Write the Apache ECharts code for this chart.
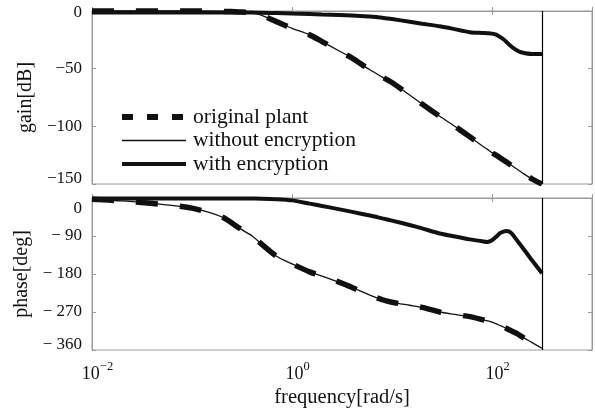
<!DOCTYPE html>
<html>
<head>
<meta charset="utf-8">
<script src="https://cdn.jsdelivr.net/npm/echarts@6/dist/echarts.min.js"></script>
<style>
  html, body { margin: 0; padding: 0; background: #fff; }
  #chart { width: 595px; height: 412px; }
</style>
</head>
<body>
<div id="chart"></div>
<script>
// ---- data ----
const seriesNames = ['original plant', 'without encryption', 'with encryption'];
const freq = [0.01, 0.02, 0.05, 0.1, 0.2, 0.3, 0.4, 0.5, 0.7, 1,
              1.5, 2, 3, 4, 6, 8, 10, 15, 20, 30,
              40, 60, 80, 90, 100, 110, 120, 130, 140, 150,
              160, 180, 200, 250, 316];
const gainOriginal = [0, 0, 0, 0, -0.3, -0.8, -1.5, -3.8, -9.2, -15,
                      -20.7, -26.5, -34.9, -40.8, -51, -57.3, -62, -72.9, -80.7, -91.3,
                      -98.4, -109.1, -117, -120, -122.8, -125, -127.2, -129.2, -131, -132.8,
                      -134.4, -137.5, -140.2, -145.5, -150];
const gainEncrypted = [-1.2, -1.2, -1.2, -1.2, -1.2, -1.3, -1.4, -1.5, -1.8, -2.2,
                       -2.6, -3, -3.5, -4, -4.8, -5.8, -7, -9.3, -11, -13.3,
                       -15.3, -18.4, -19, -19.3, -19.6, -20.5, -22.5, -24.5, -27, -29.5,
                       -31.5, -34.5, -36, -37.3, -37.3];
const phaseOriginal = [-3, -7, -15, -24, -45, -72, -90, -110, -138, -156,
                       -175, -185, -200, -212, -230, -241, -247, -254, -259, -270,
                       -275, -281, -288, -291, -294, -298, -302, -305.5, -309, -312.5,
                       -316, -322, -329, -342, -356];
const phaseEncrypted = [-1, -1, -1, -1, -1, -1.2, -1.4, -1.6, -2.8, -5.6,
                        -13.3, -18.8, -26.9, -32.9, -41.5, -48.3, -53.6, -64, -72, -84,
                        -90, -98, -102.5, -104, -100, -92, -83, -79.5, -78, -80,
                        -86, -102, -116, -147, -178];
const nyquistFreq = 316;
const gainTicks = [0, -50, -100, -150];
const phaseTicks = [0, -90, -180, -270, -360];
const freqTickExponents = [-2, 0, 2];

// ---- helpers ----
const FONT = 'Liberation Serif';
const GREY = '#9a9a9a';
const pairs = (xs, ys) => xs.map((x, i) => [x, ys[i]]);
const MINUS = '\u2212';

function yLabelFormatter(ticks, kind) {
  return function (v) {
    if (ticks.indexOf(v) < 0) return '';
    let txt = v < 0 ? MINUS + (kind === 'phase' ? ' ' : '') + Math.abs(v) : String(v);
    const isTop = v === ticks[0];
    const isBottom = v === ticks[ticks.length - 1];
    if (isTop) return '{' + (kind === 'phase' ? 'tp' : 'tg') + '|' + txt + '}';
    if (isBottom) return '{bt|' + txt + '}';
    return '{n|' + txt + '}';
  };
}
const yRich = {
  n: { fontFamily: FONT, fontSize: 17, color: '#111' },
  tg: { fontFamily: FONT, fontSize: 17, color: '#111', padding: [4, 0, 0, 0] },
  tp: { fontFamily: FONT, fontSize: 17, color: '#111', padding: [22, 0, 0, 0] },
  bt: { fontFamily: FONT, fontSize: 17, color: '#111', padding: [0, 0, 10, 0] }
};

function xLabelFormatter(v) {
  const e = Math.round(Math.log10(v));
  if (freqTickExponents.indexOf(e) < 0 || Math.abs(Math.log10(v) - e) > 1e-6) return '';
  const sup = e < 0 ? MINUS + Math.abs(e) : String(e);
  return '{sp|}{b|10}{s|' + sup + '}';
}
function xRich() {
  return {
    sp: { width: 11 },
    b: { fontFamily: FONT, fontSize: 18, color: '#111' },
    s: { fontFamily: FONT, fontSize: 12.5, color: '#111', verticalAlign: 'bottom', padding: [0, 0, 15, 0] }
  };
}

const tickStyle = { show: true, inside: true, length: 4, lineStyle: { color: GREY, width: 1 } };
const axisLineStyle = { show: true, lineStyle: { color: GREY, width: 1 } };

function xAxisDef(grid, position, withLabels) {
  const ax = {
    type: 'log', logBase: 100, gridIndex: grid, position: position,
    min: 0.01, max: 1000,
    axisLine: axisLineStyle, axisTick: tickStyle, splitLine: { show: false },
    minorTick: { show: false },
    axisLabel: { show: false }
  };
  if (withLabels) {
    ax.axisLabel = { show: true, margin: 10, formatter: xLabelFormatter, rich: xRich(),
                     showMinLabel: true, showMaxLabel: true };
    ax.name = 'frequency[rad/s]';
    ax.nameLocation = 'middle';
    ax.nameGap = 37;
    ax.nameTextStyle = { fontFamily: FONT, fontSize: 20.5, color: '#111' };
  }
  return ax;
}
function yAxisDef(grid, position, min, max, interval, withLabels, ticks, kind, name) {
  const ax = {
    type: 'value', gridIndex: grid, position: position, min: min, max: max, interval: interval,
    axisLine: axisLineStyle, axisTick: tickStyle, splitLine: { show: false },
    axisLabel: { show: false }
  };
  if (withLabels) {
    ax.axisLabel = { show: true, margin: 10, formatter: yLabelFormatter(ticks, kind), rich: yRich,
                     showMinLabel: true, showMaxLabel: true };
    ax.name = name;
    ax.nameLocation = 'middle';
    ax.nameGap = 55;
    ax.nameTextStyle = { fontFamily: FONT, fontSize: 20, color: '#111' };
  }
  return ax;
}

const dashedStyle = { color: '#111', width: 5.5, type: [22, 22] };
const thinStyle = { color: '#111', width: 1.3, type: 'solid' };
const thickStyle = { color: '#111', width: 4, type: 'solid' };

function lineSeries(name, x, y, yIdx, style, withNyquist) {
  const s = {
    name: name, type: 'line', xAxisIndex: yIdx, yAxisIndex: yIdx,
    data: pairs(x, y), symbol: 'none', showSymbol: false, clip: false,
    smooth: 0.25, lineStyle: style, itemStyle: { color: '#111' },
    emphasis: { disabled: true }, silent: true
  };
  if (withNyquist) {
    s.markLine = {
      silent: true, symbol: ['none', 'none'], label: { show: false },
      lineStyle: { color: '#000', width: 1.2, type: 'solid' },
      data: [{ xAxis: nyquistFreq }], animation: false
    };
  }
  return s;
}

const chart = echarts.init(document.getElementById('chart'), null, { renderer: 'canvas' });
chart.setOption({
  animation: false,
  backgroundColor: '#fff',
  grid: [
    { left: 92, right: 3, top: 11, height: 173, show: true, borderColor: GREY, borderWidth: 1, containLabel: false },
    { left: 92, right: 3, top: 198, height: 152, show: true, borderColor: GREY, borderWidth: 1, containLabel: false }
  ],
  xAxis: [
    xAxisDef(0, 'bottom', false),
    xAxisDef(0, 'top', false),
    xAxisDef(1, 'bottom', true),
    xAxisDef(1, 'top', false)
  ],
  yAxis: [
    yAxisDef(0, 'left', -150, 0, 50, true, gainTicks, 'gain', 'gain[dB]'),
    yAxisDef(0, 'right', -150, 0, 50, false),
    yAxisDef(1, 'left', -360, 0, 90, true, phaseTicks, 'phase', 'phase[deg]'),
    yAxisDef(1, 'right', -360, 0, 90, false)
  ],
  legend: {
    orient: 'vertical', left: 119, top: 106, padding: 0,
    itemWidth: 64, itemHeight: 6, itemGap: 1.5,
    textStyle: { fontFamily: FONT, fontSize: 21.5, color: '#111', lineHeight: 21, padding: [0, 0, 0, 2] },
    itemStyle: { opacity: 0 },
    selectedMode: false,
    data: [
      { name: seriesNames[0], lineStyle: { color: '#111', width: 6, type: [11, 14] } },
      { name: seriesNames[1], lineStyle: { color: '#111', width: 1.3 } },
      { name: seriesNames[2], lineStyle: { color: '#111', width: 4 } }
    ]
  },
  series: [
    lineSeries(seriesNames[0], freq, gainOriginal, 0, dashedStyle, false),
    lineSeries(seriesNames[1], freq, gainOriginal, 0, thinStyle, false),
    lineSeries(seriesNames[2], freq, gainEncrypted, 0, thickStyle, true),
    lineSeries(seriesNames[0], freq, phaseOriginal, 2, dashedStyle, false),
    lineSeries(seriesNames[1], freq, phaseOriginal, 2, thinStyle, false),
    lineSeries(seriesNames[2], freq, phaseEncrypted, 2, thickStyle, true)
  ]
});
</script>
</body>
</html>
